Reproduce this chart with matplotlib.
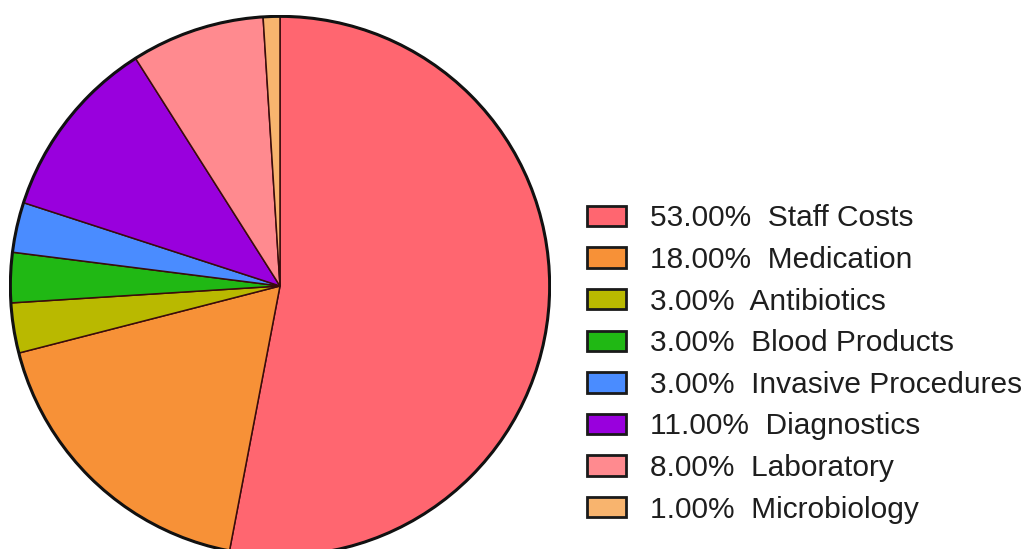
import matplotlib.pyplot as plt
from matplotlib.patches import Circle, Patch

plt.rcParams["font.family"] = ["Liberation Sans", "DejaVu Sans"]

categories = [
    "Staff Costs",
    "Medication",
    "Antibiotics",
    "Blood Products",
    "Invasive Procedures",
    "Diagnostics",
    "Laboratory",
    "Microbiology",
]
shares = [53.0, 18.0, 3.0, 3.0, 3.0, 11.0, 8.0, 1.0]
colors = [
    "#ff6670",
    "#f79137",
    "#b9b900",
    "#20b814",
    "#4a8cff",
    "#9900dd",
    "#ff8a8f",
    "#f8b46e",
]

fig = plt.figure(figsize=(10.23, 5.49), dpi=100)
W, H = 1023, 549
cx, cy, r = 280, 286, 271
ax = fig.add_axes([(cx - r) / W, (H - cy - r) / H, 2 * r / W, 2 * r / H])

wedges, _ = ax.pie(
    shares,
    colors=colors,
    startangle=90,
    counterclock=False,
    radius=1.0,
    wedgeprops=dict(edgecolor="#3a0c0c", linewidth=1.1),
)
# thicker outline around the whole pie
ax.add_patch(Circle((0, 0), 1.0, fill=False, edgecolor="#111111", linewidth=2.2))
ax.set_xlim(-1.005, 1.005)
ax.set_ylim(-1.005, 1.005)
ax.set_axis_off()

handles = [Patch(facecolor=c, edgecolor="#1a1a1a", linewidth=2.0) for c in colors]
labels = [f"{v:.2f}%  {n}" for v, n in zip(shares, categories)]
fig.legend(
    handles,
    labels,
    loc="upper left",
    bbox_to_anchor=(587 / W, 1 - 204.5 / H),
    frameon=False,
    fontsize=21.5,
    labelcolor="#1e1e1e",
    handlelength=1.3,
    handleheight=0.67,
    handletextpad=0.8,
    labelspacing=0.455,
    borderpad=0,
    borderaxespad=0,
)

fig.savefig("out.png", dpi=100)
